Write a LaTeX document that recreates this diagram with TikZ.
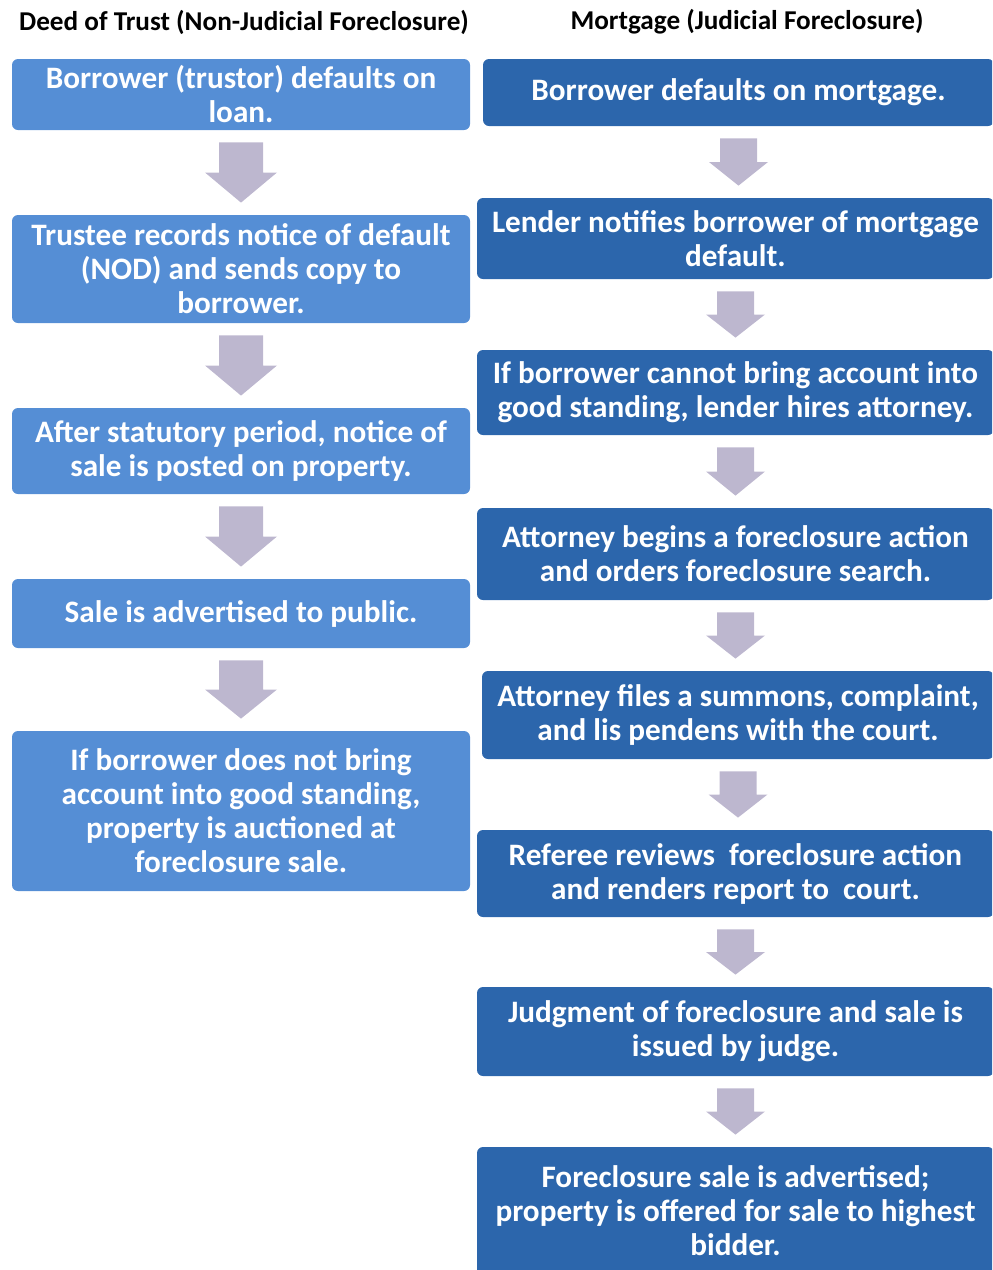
\documentclass[tikz,border=0pt]{standalone}
\usepackage{fontspec}
\setmainfont{Carlito}
\usetikzlibrary{calc}

\definecolor{dotblue}{RGB}{85,142,213}
\definecolor{mtgblue}{RGB}{44,102,172}
\definecolor{arrowgray}{RGB}{189,183,207}

\tikzset{
  box/.style={rounded corners=3pt, align=center, text=white, inner sep=0pt,
    font=\fontsize{15.6}{17}\selectfont\bfseries},
  dotbox/.style={box, fill=dotblue, minimum width=229pt},
  mtgbox/.style={box, fill=mtgblue, minimum width=258.5pt},
  headtext/.style={font=\fontsize{13.6}{15}\selectfont\bfseries}
}

% block arrow: from node, to node, shaft half width, head half width
\newcommand\blockarrow[4]{%
  \fill[arrowgray] let \p1=(#1.south), \p2=(#2.north), \n1={(\y1+\y2)/2} in
    (\x1-#3,\y1-6pt) -- (\x1+#3,\y1-6pt) -- (\x1+#3,\n1) -- (\x1+#4,\n1)
    -- (\x1,\y2+6pt) -- (\x1-#4,\n1) -- (\x1-#3,\n1) -- cycle;}

\begin{document}
\begin{tikzpicture}[x=0.5pt,y=-0.5pt]
    \useasboundingbox (0,0) rectangle (992,1270);
    \clip (0,0) rectangle (992,1270);

    % headings
    \node[headtext] (dothead) at (244,22) {Deed of Trust (Non-Judicial Foreclosure)};
    \node[headtext] (mtghead) at (747,22) {Mortgage (Judicial Foreclosure)};

    % deed of trust
    \node[dotbox, minimum height=35.5pt] (dot1) at (241,94.5) {Borrower (trustor) defaults on\\loan.};
    \node[dotbox, minimum height=54pt] (dot2) at (241,269) {Trustee records notice of default\\(NOD) and sends copy to\\borrower.};
    \node[dotbox, minimum height=43pt] (dot3) at (241,451) {After statutory period, notice of\\sale is posted on property.};
    \node[dotbox, minimum height=34.5pt] (dot4) at (241,613.5) {Sale is advertised to public.};
    \node[dotbox, minimum height=80pt] (dot5) at (241,811) {If borrower does not bring\\account into good standing,\\property is auctioned at\\foreclosure sale.};

    % mortgage
    \node[mtgbox, minimum width=255.5pt, minimum height=33.5pt] (mtg1) at (738.5,92.5) {Borrower defaults on mortgage.};
    \node[mtgbox, minimum height=40.5pt] (mtg2) at (735.5,238.5) {Lender notifies borrower of mortgage\\default.};
    \node[mtgbox, minimum height=42.5pt] (mtg3) at (735.5,392.5) {If borrower cannot bring account into\\good standing, lender hires attorney.};
    \node[mtgbox, minimum height=46pt] (mtg4) at (735.5,554) {Attorney begins a foreclosure action\\and orders foreclosure search.};
    \node[mtgbox, minimum width=256pt, minimum height=44pt] (mtg5) at (738,715) {Attorney files a summons, complaint,\\and lis pendens with the court.};
    \node[mtgbox, minimum height=43.5pt] (mtg6) at (735.5,873.5) {Referee reviews~ foreclosure action\\and renders report to~ court.};
    \node[mtgbox, minimum height=44.5pt] (mtg7) at (735.5,1031.5) {Judgment of foreclosure and sale is\\issued by judge.};
    \node[mtgbox, minimum height=64pt] (mtg8) at (735.5,1211) {Foreclosure sale is advertised;\\property is offered for sale to highest\\bidder.};

    % arrows
    \foreach \a/\b in {dot1/dot2,dot2/dot3,dot3/dot4,dot4/dot5}
    \blockarrow{\a}{\b}{11pt}{18pt};
    \foreach \a/\b in {mtg1/mtg2,mtg2/mtg3,mtg3/mtg4,mtg4/mtg5,mtg5/mtg6,mtg6/mtg7,mtg7/mtg8}
    \blockarrow{\a}{\b}{9.25pt}{14.75pt};
  \end{tikzpicture}
\end{document}
